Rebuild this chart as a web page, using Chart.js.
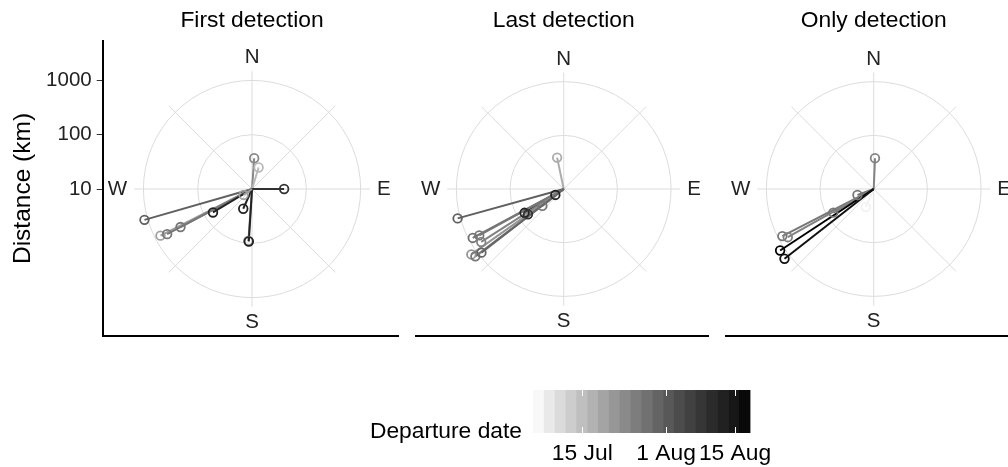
<!DOCTYPE html>
<html lang="en">
<head>
  <meta charset="UTF-8">
  <title>Departure direction and distance</title>
  <script src="https://cdn.jsdelivr.net/npm/chart.js"></script>
  <style>
    body { margin: 0; background: #fff; }
    #wrap { position: relative; width: 1008px; height: 467px; overflow: hidden; }
    #wrap canvas { position: absolute; top: 0; }
  </style>
</head>
<body>

<div id="wrap">
  <canvas id="first" width="410" height="467" style="left:0"></canvas>
  <canvas id="last" width="310" height="467" style="left:410px"></canvas>
  <canvas id="only" width="310" height="467" style="left:720px"></canvas>
  <canvas id="legend" width="420" height="87" style="left:360px; top:380px"></canvas>
</div>

<script>
  // bearing in degrees (0 = N, clockwise), distance in km, departure date
  const firstBearing   = [4, 17, 90, 254, 243, 242, 242, 239, 204, 184, 183.5, 235];
  const firstDistance  = [37, 26, 39, 1150, 780, 590, 310, 69, 25, 91, 93, 15.5];
  const firstDeparture = ['2019-07-24', '2019-07-16', '2019-08-09', '2019-07-31', '2019-07-20', '2019-07-27',
                          '2019-07-27', '2019-08-12', '2019-08-12', '2019-07-25', '2019-08-12', '2019-07-20'];

  const lastBearing   = [348, 254.7, 235, 232, 239, 235, 242, 241.5, 237.6, 235, 233, 232.6];
  const lastDistance  = [39, 1120, 15.5, 32, 71, 65, 830, 617, 660, 1260, 1150, 850];
  const lastDeparture = ['2019-07-18', '2019-07-31', '2019-08-12', '2019-07-27', '2019-08-12', '2019-08-09',
                         '2019-07-28', '2019-07-27', '2019-07-25', '2019-07-22', '2019-07-27', '2019-07-30'];

  const onlyBearing   = [204, 2.4, 250, 240, 243, 241, 237, 232.3];
  const onlyDistance  = [23, 37, 21, 74, 813, 676, 1200, 1260];
  const onlyDeparture = ['2019-07-07', '2019-07-25', '2019-07-27', '2019-07-27', '2019-07-27', '2019-07-25',
                         '2019-08-18', '2019-08-16'];

  const panelTitles = ['First detection', 'Last detection', 'Only detection'];
  const distanceTicks = [10, 100, 1000];
  const gridRings = [100, 1000];
  const compassLabels = ['N', 'E', 'S', 'W'];

  const legendFrom = '2019-07-05';
  const legendTo = '2019-08-18';
  const legendTickDates = ['2019-07-15', '2019-08-01', '2019-08-15'];
  const legendTickLabels = ['15 Jul', '1 Aug', '15 Aug'];

  const FONT = '"Liberation Sans", Arial, sans-serif';
  Chart.defaults.font.family = FONT;
  Chart.defaults.color = '#222';

  function dayNum(s) {
    return Date.UTC(+s.slice(0, 4), +s.slice(5, 7) - 1, +s.slice(8, 10)) / 86400000;
  }

  // radial position in decades, 10 km sits at the centre
  function radius(km) {
    return Math.log10(km) - 1;
  }

  function toXY(bearing, km) {
    const r = radius(km), a = bearing * Math.PI / 180;
    return { x: r * Math.sin(a), y: r * Math.cos(a) };
  }

  // white -> black, interpolated in lightness like ggplot
  function grayFor(day) {
    const lo = dayNum(legendFrom), hi = dayNum(legendTo);
    const t = Math.min(1, Math.max(0, (day - lo) / (hi - lo)));
    const L = 100 * (1 - t);
    const Y = L > 8 ? Math.pow((L + 16) / 116, 3) : L / 903.3;
    const v = Y <= 0.0031308 ? 12.92 * Y : 1.055 * Math.pow(Y, 1 / 2.4) - 0.055;
    const g = Math.round(255 * Math.max(0, Math.min(1, v)));
    return `rgb(${g},${g},${g})`;
  }

  const polarGrid = {
    id: 'polarGrid',
    beforeDatasetsDraw(chart) {
      const { ctx, scales: { x, y } } = chart;
      const cx = x.getPixelForValue(0), cy = y.getPixelForValue(0);
      const k = x.getPixelForValue(1) - cx;
      ctx.save();
      ctx.strokeStyle = '#dcdcdc';
      ctx.lineWidth = 1;
      gridRings.forEach(d => {
        ctx.beginPath();
        ctx.arc(cx, cy, radius(d) * k, 0, Math.PI * 2);
        ctx.stroke();
      });
      for (let b = 0; b < 360; b += 45) {
        const a = b * Math.PI / 180;
        ctx.beginPath();
        ctx.moveTo(cx, cy);
        ctx.lineTo(cx + 2.17 * k * Math.sin(a), cy - 2.17 * k * Math.cos(a));
        ctx.stroke();
      }
      ctx.restore();
    },
    afterDraw(chart, args, opts) {
      const { ctx, scales: { x, y } } = chart;
      const cx = x.getPixelForValue(0), cy = y.getPixelForValue(0);
      const k = x.getPixelForValue(1) - cx;
      ctx.save();
      ctx.fillStyle = '#000';
      ctx.font = '22.8px ' + FONT;
      ctx.textAlign = 'center';
      ctx.textBaseline = 'middle';
      ctx.fillText(opts.title, cx, 21);

      ctx.fillStyle = '#222';
      ctx.font = '20.5px ' + FONT;
      ctx.fillText(compassLabels[0], cx, cy - 2.42 * k);
      ctx.fillText(compassLabels[2], cx, cy + 2.46 * k);
      ctx.textAlign = 'left';
      ctx.fillText(compassLabels[1], cx + 2.3 * k, cy);
      ctx.textAlign = 'right';
      ctx.fillText(compassLabels[3], cx - 2.3 * k, cy);
      ctx.restore();
    }
  };

  function makePanel(id, title, bearings, distances, departures, showY) {
    const pts = bearings.map((b, i) => toXY(b, distances[i]));
    const cols = departures.map(d => grayFor(dayNum(d)));

    // lines first, circles on top (like geom_path + geom_point)
    const datasets = pts.map((p, i) => ({
      data: [{ x: 0, y: 0 }, p],
      showLine: true,
      borderColor: cols[i],
      borderWidth: 2,
      pointRadius: 0,
      order: 100 - i
    }));
    datasets.push({
      data: pts,
      showLine: false,
      pointRadius: 4.3,
      pointBorderWidth: 1.8,
      pointBorderColor: cols,
      pointBackgroundColor: 'rgba(0,0,0,0)',
      order: -1
    });

    const yScale = {
      type: 'linear', min: -2.707, max: 2.726,
      display: showY,
      afterBuildTicks: s => { s.ticks = distanceTicks.map(d => ({ value: radius(d) })); },
      ticks: {
        callback: (v, i) => String(distanceTicks[i]),
        font: { size: 20.5 }, color: '#222', padding: 5, autoSkip: false
      },
      grid: { drawOnChartArea: false, drawTicks: true, tickLength: 6, tickColor: '#333', tickWidth: 1 },
      border: { display: true, color: '#000', width: 2 },
      title: { display: true, text: 'Distance (km)', font: { size: 24.5 }, color: '#000', padding: { top: 9 } }
    };
    if (showY) yScale.afterFit = s => { s.width = 102.7; };

    return new Chart(document.getElementById(id), {
      type: 'scatter',
      data: { datasets: datasets },
      options: {
        responsive: false,
        animation: false,
        devicePixelRatio: 1,
        events: [],
        layout: { padding: { left: showY ? 0 : 2.7, right: 11.9, top: 41, bottom: 131 } },
        plugins: {
          legend: { display: false },
          tooltip: { enabled: false },
          polarGrid: { title: title }
        },
        scales: {
          x: {
            type: 'linear', min: -2.75, max: 2.69,
            ticks: { display: false },
            grid: { display: false, drawTicks: false },
            border: { display: true, color: '#000', width: 2 },
            afterFit: s => { s.height = 0; }
          },
          y: yScale
        }
      },
      plugins: [polarGrid]
    });
  }

  makePanel('first', panelTitles[0], firstBearing, firstDistance, firstDeparture, true);
  makePanel('last', panelTitles[1], lastBearing, lastDistance, lastDeparture, false);
  makePanel('only', panelTitles[2], onlyBearing, onlyDistance, onlyDeparture, false);

  // colour bar legend
  const colourBar = {
    id: 'colourBar',
    afterDraw(chart) {
      const { ctx, chartArea: a, scales: { x } } = chart;
      const lo = x.min, hi = x.max, n = 20;
      ctx.save();
      for (let i = 0; i < n; i++) {
        const p0 = x.getPixelForValue(lo + (hi - lo) * i / n);
        const p1 = x.getPixelForValue(lo + (hi - lo) * (i + 1) / n);
        ctx.fillStyle = grayFor(lo + (hi - lo) * (i + 0.5) / n);
        ctx.fillRect(p0, a.top, p1 - p0 + 0.6, a.bottom - a.top);
      }
      ctx.strokeStyle = '#fff';
      ctx.lineWidth = 1;
      legendTickDates.forEach(d => {
        const px = Math.round(x.getPixelForValue(dayNum(d))) + 0.5;
        ctx.beginPath();
        ctx.moveTo(px, a.top); ctx.lineTo(px, a.top + 6);
        ctx.moveTo(px, a.bottom - 6); ctx.lineTo(px, a.bottom);
        ctx.stroke();
      });
      ctx.fillStyle = '#000';
      ctx.font = '22.8px ' + FONT;
      ctx.textAlign = 'right';
      ctx.textBaseline = 'middle';
      ctx.fillText('Departure date', a.left - 11, 52);
      ctx.restore();
    }
  };

  new Chart(document.getElementById('legend'), {
    type: 'scatter',
    data: { datasets: [] },
    options: {
      responsive: false,
      animation: false,
      devicePixelRatio: 1,
      events: [],
      layout: { padding: { left: 173, right: 27, top: 10, bottom: 0 } },
      plugins: { legend: { display: false }, tooltip: { enabled: false } },
      scales: {
        x: {
          type: 'linear', min: dayNum(legendFrom), max: dayNum(legendTo),
          afterBuildTicks: s => { s.ticks = legendTickDates.map(d => ({ value: dayNum(d) })); },
          afterFit: s => { s.height = 34; },
          ticks: {
            callback: (v, i) => legendTickLabels[i],
            font: { size: 22.8 }, color: '#000', padding: 7, maxRotation: 0, autoSkip: false
          },
          grid: { display: false, drawTicks: false },
          border: { display: false }
        },
        y: { display: false, min: 0, max: 1 }
      }
    },
    plugins: [colourBar]
  });
</script>

</body>
</html>
